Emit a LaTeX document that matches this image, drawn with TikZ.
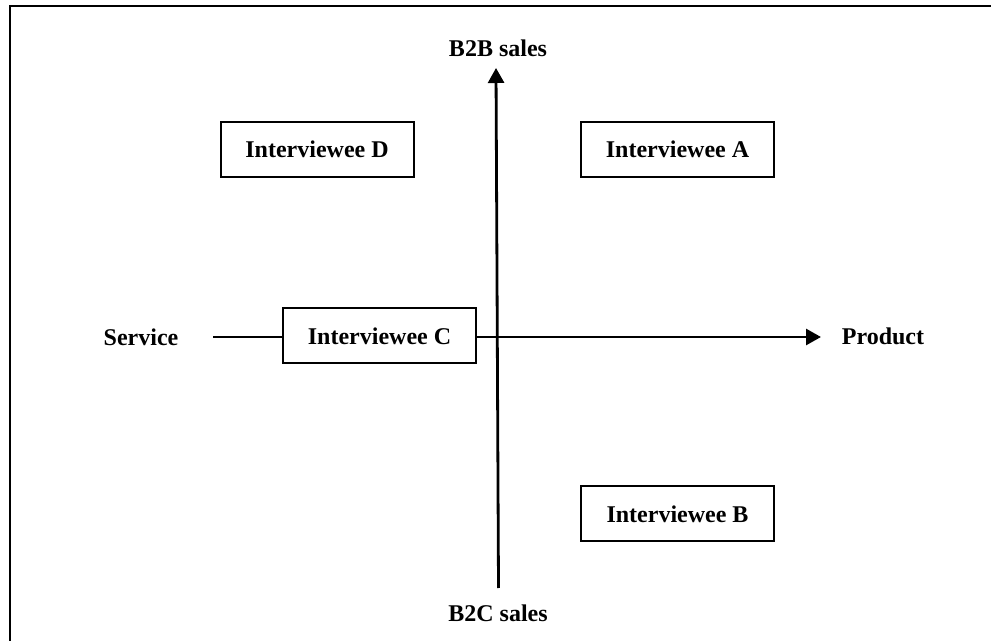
\documentclass[tikz,border=0pt]{standalone}
\usepackage{fontspec}
\setmainfont{Liberation Serif}
\usetikzlibrary{arrows.meta}
\begin{document}
\begin{tikzpicture}[x=0.5pt,y=-0.5pt,
  every node/.style={font=\fontsize{12pt}{14pt}\selectfont\bfseries, inner sep=0pt},
  person/.style={draw, line width=1pt, fill=white, minimum width=96.5pt, minimum height=27.5pt},
  axis/.style={line width=1.4pt},
  axistip/.style={-{Triangle[length=7.5pt,width=8pt]}}]
  \useasboundingbox (0,0) rectangle (991,641);
  % page frame (top and left edges)
  \draw[line width=1pt] (9.5,641) -- (9.5,6.5) -- (991,6.5);

  % axis labels
  \node (b2b) at (498,48) {B2B sales};
  \node (b2c) at (498,613) {B2C sales};
  \node (service) at (141,337) {Service};
  \node (product) at (883,336) {Product};

  % axis end points
  \coordinate (vtop) at (496,68);
  \coordinate (vbot) at (498.5,588);
  \coordinate (hleft) at (213,337);
  \coordinate (hright) at (821,337);

  \draw[axis,axistip] (vbot) -- (vtop);
  \draw[axis,axistip] (hleft) -- (hright);

  % interviewees
  \node[person] (D) at (317,149.5) {Interviewee D};
  \node[person] (A) at (677.5,149.5) {Interviewee A};
  \node[person] (C) at (379.5,336) {Interviewee C};
  \node[person] (B) at (677.5,514) {Interviewee B};
\end{tikzpicture}
\end{document}
